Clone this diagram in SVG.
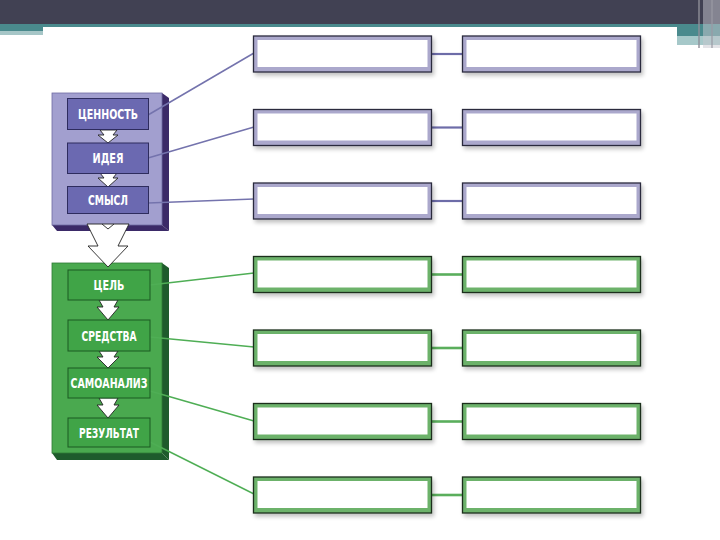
<svg xmlns="http://www.w3.org/2000/svg" width="720" height="540" viewBox="0 0 720 540">
<defs>
<style>
.lbl{font-family:"DejaVu Sans Condensed","DejaVu Sans","Liberation Sans",sans-serif;font-weight:bold;font-size:13.5px;fill:#ffffff;text-anchor:middle}
.pOut{fill:#aba8cc;stroke:#2b2a3e;stroke-width:1.3}
.gOut{fill:#6cb26a;stroke:#1d2e1d;stroke-width:1.3}
.inner{fill:#ffffff}
.pIn{fill:#6b69b1;stroke:#2e2c5e;stroke-width:1}
.gIn{fill:#40a447;stroke:#1b5a22;stroke-width:1}
.arr{fill:#ffffff;stroke:#222222;stroke-width:0.9;stroke-linejoin:miter}
.pLine{stroke:#7473ad;stroke-width:1.5;fill:none}
.gLine{stroke:#4fae55;stroke-width:1.5;fill:none}
.pLink{stroke:#6d6ca8;stroke-width:2.2}
.gLink{stroke:#5aae5c;stroke-width:2.6}
</style>
<filter id="sh" x="-10%" y="-20%" width="130%" height="160%">
<feGaussianBlur in="SourceAlpha" stdDeviation="2"/>
<feOffset dx="2" dy="3" result="b"/>
<feComponentTransfer><feFuncA type="linear" slope="0.25"/></feComponentTransfer>
<feMerge><feMergeNode/><feMergeNode in="SourceGraphic"/></feMerge>
</filter>
</defs>
<rect width="720" height="540" fill="#ffffff"/>
<g id="header">
<rect x="0" y="0" width="720" height="24" fill="#414153"/>
<rect x="0" y="24" width="720" height="3" fill="#4a8a8d"/>
<rect x="0" y="24" width="43" height="8" fill="#4a8a8d"/>
<rect x="0" y="31" width="43" height="4" fill="#a6c6c7"/>
<rect x="677" y="24" width="43" height="12" fill="#4a8a8d"/>
<rect x="677" y="36" width="43" height="9" fill="#a6c8c9"/>
<rect x="698" y="0" width="2" height="48" fill="#8f8f99" opacity="0.7"/>
<rect x="703" y="0" width="17" height="48" fill="#c8c8cf" opacity="0.5"/>
<rect x="711" y="0" width="2" height="48" fill="#9a9aa3" opacity="0.6"/>
</g>

<g id="panel-purple">
<polygon points="162,93 169,98 169,231 162,225" fill="#3b2a68"/>
<polygon points="52,225 57,231 169,231 162,225" fill="#3b2a68"/>
<rect x="52" y="93" width="110" height="132" fill="#a29fcf" stroke="#6f6ca3" stroke-width="0.8"/>
</g>
<g id="panel-green">
<polygon points="162,263 169,268 169,460 162,453" fill="#1e5b2c"/>
<polygon points="52,453 57,460 169,460 162,453" fill="#1e5b2c"/>
<rect x="52" y="263" width="110" height="190" fill="#4aa94f" stroke="#2e7a36" stroke-width="0.8"/>
</g>

<g id="arrow-big">
<polygon class="arr" points="87,224 129,224 118,246 128,246 108,267 88,246 98,246"/>
<polyline points="102,224 108,229 114,224" fill="none" stroke="#222" stroke-width="0.9"/>
</g>

<g id="connectors">
<line class="pLine" x1="148" y1="115" x2="254" y2="53"/>
<line class="pLine" x1="148" y1="158" x2="254" y2="127"/>
<line class="pLine" x1="148" y1="203" x2="254" y2="199"/>
<line class="gLine" x1="150" y1="285" x2="254" y2="273"/>
<line class="gLine" x1="150" y1="337" x2="254" y2="347"/>
<line class="gLine" x1="150" y1="391" x2="254" y2="421"/>
<line class="gLine" x1="150" y1="442" x2="254" y2="494"/>
<line class="pLink" x1="432" y1="54" x2="462" y2="54"/>
<line class="pLink" x1="432" y1="127.5" x2="462" y2="127.5"/>
<line class="pLink" x1="432" y1="201" x2="462" y2="201"/>
<line class="gLink" x1="432" y1="274.5" x2="462" y2="274.5"/>
<line class="gLink" x1="432" y1="348" x2="462" y2="348"/>
<line class="gLink" x1="432" y1="421.5" x2="462" y2="421.5"/>
<line class="gLink" x1="432" y1="495" x2="462" y2="495"/>
</g>

<g id="arrows-small">
<polygon class="arr" points="100,130 117,130 113,135 118,135 108,143 98,135 104,135"/>
<polygon class="arr" points="100,173 117,173 113,178 118,178 108,187 98,178 104,178"/>
<polygon class="arr" points="99,300 118,300 114,307 119,307 108,320 97,307 103,307"/>
<polygon class="arr" points="99,351 118,351 114,357 119,357 108,368 97,357 103,357"/>
<polygon class="arr" points="99,398 118,398 114,405 119,405 108,418 97,405 103,405"/>
</g>

<g id="n-cennost"><rect class="pIn" x="67.5" y="98.5" width="81" height="31"/><text class="lbl" x="108" y="119" textLength="60" lengthAdjust="spacingAndGlyphs">ЦЕННОСТЬ</text></g>
<g id="n-ideya"><rect class="pIn" x="67.5" y="143" width="81" height="30.5"/><text class="lbl" x="108" y="163" textLength="31" lengthAdjust="spacingAndGlyphs">ИДЕЯ</text></g>
<g id="n-smysl"><rect class="pIn" x="67.5" y="186.5" width="81" height="27"/><text class="lbl" x="108" y="205" textLength="40" lengthAdjust="spacingAndGlyphs">СМЫСЛ</text></g>
<g id="n-cel"><rect class="gIn" x="68" y="270" width="82" height="30"/><text class="lbl" x="109" y="290" textLength="31" lengthAdjust="spacingAndGlyphs">ЦЕЛЬ</text></g>
<g id="n-sredstva"><rect class="gIn" x="68" y="320" width="82" height="31"/><text class="lbl" x="109" y="340.5" textLength="55" lengthAdjust="spacingAndGlyphs">СРЕДСТВА</text></g>
<g id="n-samoanaliz"><rect class="gIn" x="68" y="368" width="82" height="30"/><text class="lbl" x="109" y="388" textLength="77" lengthAdjust="spacingAndGlyphs">САМОАНАЛИЗ</text></g>
<g id="n-rezultat"><rect class="gIn" x="68" y="418" width="82" height="29"/><text class="lbl" x="109" y="437.5" textLength="60" lengthAdjust="spacingAndGlyphs">РЕЗУЛЬТАТ</text></g>

<g id="b1a" filter="url(#sh)"><rect class="pOut" x="253.5" y="36" width="178" height="36"/><rect class="inner" x="257.5" y="40" width="170" height="27"/></g>
<g id="b1b" filter="url(#sh)"><rect class="pOut" x="462.5" y="36" width="178" height="36"/><rect class="inner" x="466.5" y="40" width="170" height="27"/></g>
<g id="b2a" filter="url(#sh)"><rect class="pOut" x="253.5" y="109.5" width="178" height="36"/><rect class="inner" x="257.5" y="113.5" width="170" height="27"/></g>
<g id="b2b" filter="url(#sh)"><rect class="pOut" x="462.5" y="109.5" width="178" height="36"/><rect class="inner" x="466.5" y="113.5" width="170" height="27"/></g>
<g id="b3a" filter="url(#sh)"><rect class="pOut" x="253.5" y="183" width="178" height="36"/><rect class="inner" x="257.5" y="187" width="170" height="27"/></g>
<g id="b3b" filter="url(#sh)"><rect class="pOut" x="462.5" y="183" width="178" height="36"/><rect class="inner" x="466.5" y="187" width="170" height="27"/></g>
<g id="b4a" filter="url(#sh)"><rect class="gOut" x="253.5" y="256.5" width="178" height="36"/><rect class="inner" x="257.5" y="260.5" width="170" height="27"/></g>
<g id="b4b" filter="url(#sh)"><rect class="gOut" x="462.5" y="256.5" width="178" height="36"/><rect class="inner" x="466.5" y="260.5" width="170" height="27"/></g>
<g id="b5a" filter="url(#sh)"><rect class="gOut" x="253.5" y="330" width="178" height="36"/><rect class="inner" x="257.5" y="334" width="170" height="27"/></g>
<g id="b5b" filter="url(#sh)"><rect class="gOut" x="462.5" y="330" width="178" height="36"/><rect class="inner" x="466.5" y="334" width="170" height="27"/></g>
<g id="b6a" filter="url(#sh)"><rect class="gOut" x="253.5" y="403.5" width="178" height="36"/><rect class="inner" x="257.5" y="407.5" width="170" height="27"/></g>
<g id="b6b" filter="url(#sh)"><rect class="gOut" x="462.5" y="403.5" width="178" height="36"/><rect class="inner" x="466.5" y="407.5" width="170" height="27"/></g>
<g id="b7a" filter="url(#sh)"><rect class="gOut" x="253.5" y="477" width="178" height="36"/><rect class="inner" x="257.5" y="481" width="170" height="27"/></g>
<g id="b7b" filter="url(#sh)"><rect class="gOut" x="462.5" y="477" width="178" height="36"/><rect class="inner" x="466.5" y="481" width="170" height="27"/></g>
</svg>
